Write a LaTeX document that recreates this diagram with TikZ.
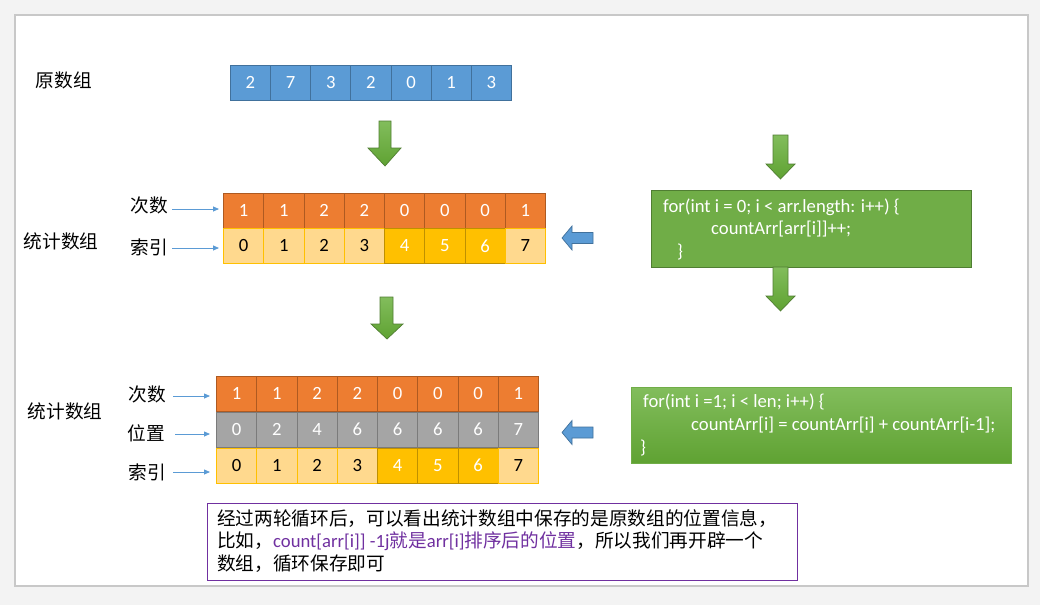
\documentclass[tikz,border=0pt]{standalone}
\usepackage{fontspec}
\setmainfont{Carlito}
\newfontfamily\cjk{Noto Sans CJK SC}
\usetikzlibrary{arrows.meta}
\definecolor{bgc}{HTML}{F3F3F3}
\definecolor{framec}{HTML}{C8C8C8}
\definecolor{blueF}{HTML}{5B9BD5}
\definecolor{blueD}{HTML}{41719C}
\definecolor{orangeF}{HTML}{ED7D31}
\definecolor{orangeD}{HTML}{AE5A21}
\definecolor{ltF}{HTML}{FFD98E}
\definecolor{ltD}{HTML}{FFC000}
\definecolor{gdF}{HTML}{FFC000}
\definecolor{gdD}{HTML}{BF9000}
\definecolor{grF}{HTML}{A5A5A5}
\definecolor{grD}{HTML}{7B7B7B}
\definecolor{greenF}{HTML}{70AD47}
\definecolor{greenD}{HTML}{507E32}
\definecolor{greenT}{HTML}{82BD5C}
\definecolor{greenB}{HTML}{5FA232}
\definecolor{purp}{HTML}{7030A0}
\tikzset{
  cellbase/.style={rectangle, inner sep=0pt, anchor=north west, line width=0.8pt,
    font=\fontsize{18.67}{20}\selectfont},
  bluecell/.style={cellbase, fill=blueF, draw=blueD, text=white, minimum width=40.14pt, minimum height=35pt},
  orcell/.style={cellbase, fill=orangeF, draw=orangeD, text=white, minimum width=40.25pt, minimum height=35pt},
  grcell/.style={cellbase, fill=grF, draw=grD, text=white, minimum width=40.25pt, minimum height=35.5pt},
  ltcell/.style={cellbase, fill=ltF, draw=ltD, text=black, minimum width=40.25pt, minimum height=35pt},
  gdcell/.style={cellbase, fill=gdF, draw=gdD, text=white, minimum width=40.25pt, minimum height=35pt},
  lbl/.style={inner sep=0pt, font=\cjk\fontsize{18.67}{22}\selectfont},
  lblarrow/.style={draw=blueF, line width=0.8pt, -{Triangle[length=6pt,width=5pt]}},
  greenarrow/.style={draw=greenD, line width=0.7pt, top color=greenT, bottom color=greenB},
  bluearrow/.style={draw=blueD, line width=0.7pt, fill=blueF},
  codetext/.style={inner sep=0pt, anchor=west, text=white, font=\fontsize{18.67}{20}\selectfont},
}
\begin{document}
\begin{tikzpicture}[x=1pt,y=-1pt]
\useasboundingbox (0,0) rectangle (1040,605);
\fill[bgc] (0,0) rectangle (1040,605);
\draw[framec, fill=white, line width=1.2pt] (15,15) rectangle (1028,586);

% original array
\node[lbl] (lorig) at (64,80) {原数组};
\foreach \v [count=\i from 0] in {2,7,3,2,0,1,3}
  \node[bluecell] (o\i) at (230+\i*40.14,65) {\v};

% arrow 1
\path[greenarrow] (379,121) -- (391,121) -- (391,148) -- (401,148) -- (385,166) -- (368,148) -- (379,148) -- cycle;

% stats array 1
\foreach \v [count=\i from 0] in {1,1,2,2,0,0,0,1}
  \node[orcell] (a\i) at (223+\i*40.25,193) {\v};
\foreach \v/\s [count=\i from 0] in {0/ltcell,1/ltcell,2/ltcell,3/ltcell,4/gdcell,5/gdcell,6/gdcell,7/ltcell}
  \node[\s] (b\i) at (223+\i*40.25,228) {\v};
\node[lbl] (l1a) at (149,205) {次数};
\node[lbl] (l1b) at (149,247) {索引};
\node[lbl] (l1c) at (61,241) {统计数组};
\coordinate (p1a) at (172,209);
\coordinate (p1b) at (172,248);
\draw[lblarrow] (p1a) -- ([xshift=-4pt]a0.west |- p1a);
\draw[lblarrow] (p1b) -- ([xshift=-4pt]b0.west |- p1b);

% arrow 2
\path[greenarrow] (380,297) -- (393,297) -- (393,324) -- (403,324) -- (387,339) -- (371,324) -- (380,324) -- cycle;

% stats array 2
\foreach \v [count=\i from 0] in {1,1,2,2,0,0,0,1}
  \node[orcell] (c\i) at (216+\i*40.25,376) {\v};
\foreach \v [count=\i from 0] in {0,2,4,6,6,6,6,7}
  \node[grcell] (d\i) at (216+\i*40.25,411.5) {\v};
\foreach \v/\s [count=\i from 0] in {0/ltcell,1/ltcell,2/ltcell,3/ltcell,4/gdcell,5/gdcell,6/gdcell,7/ltcell}
  \node[\s] (e\i) at (216+\i*40.25,447.5) {\v};
\node[lbl] (l2a) at (147,394) {次数};
\node[lbl] (l2b) at (146,433) {位置};
\node[lbl] (l2c) at (147,472) {索引};
\node[lbl] (l2d) at (65,411) {统计数组};
\coordinate (p2a) at (173,396);
\coordinate (p2b) at (175,434);
\coordinate (p2c) at (173,472);
\draw[lblarrow] (p2a) -- ([xshift=-6pt]c0.west |- p2a);
\draw[lblarrow] (p2b) -- ([xshift=-6pt]d0.west |- p2b);
\draw[lblarrow] (p2c) -- ([xshift=-6pt]e0.west |- p2c);

% code box 1
\node[draw=greenD, fill=greenF, line width=0.8pt, anchor=north west, inner sep=0pt,
  minimum width=320pt, minimum height=77pt] (code1) at (651,190) {};
\node[codetext] (c1l1) at (663,207) {for(int i = 0; i < arr.length: i++) \{};
\node[codetext] (c1l2) at (711,229) {countArr[arr[i]]++;};
\node[codetext] (c1l3) at (677,252) {\}};
\path[greenarrow] (773,135) -- (788,135) -- (788,164) -- (795,164) -- (780.5,179) -- (766,164) -- (773,164) -- cycle;
\path[greenarrow] (773,267) -- (788,267) -- (788,296) -- (795,296) -- (780.5,311) -- (766,296) -- (773,296) -- cycle;

% left blue arrows
\path[bluearrow] (562,238) -- (572,226) -- (572,232.5) -- (593,232.5) -- (593,243.5) -- (572,243.5) -- (572,250) -- cycle;
\path[bluearrow] (562,432.5) -- (572,420.5) -- (572,427) -- (593,427) -- (593,438) -- (572,438) -- (572,444.5) -- cycle;

% code box 2
\node[draw=greenF, top color=greenT, bottom color=greenB, line width=0.8pt, anchor=north west, inner sep=0pt,
  minimum width=380pt, minimum height=76pt] (code2) at (631,387) {};
\node[codetext] (c2l1) at (643,402) {for(int i =1; i < len; i++) \{};
\node[codetext] (c2l2) at (691,425) {countArr[i] = countArr[i] + countArr[i-1];};
\node[codetext] (c2l3) at (640,448) {\}};

% note box
\node[draw=purp, fill=white, line width=0.8pt, anchor=north west, inner sep=0pt,
  minimum width=590pt, minimum height=77pt] (note) at (207,503) {};
\node[inner sep=0pt, anchor=north west, align=left, font=\cjk\fontsize{18.67}{22.5}\selectfont] (notetext) at (217,509)
 {经过两轮循环后，可以看出统计数组中保存的是原数组的位置信息，\\
  比如，\textcolor{purp}{{\fontspec{Carlito}count[arr[i]] -1j}就是{\fontspec{Carlito}arr[i]}排序后的位置}，所以我们再开辟一个\\
  数组，循环保存即可};
\end{tikzpicture}
\end{document}
